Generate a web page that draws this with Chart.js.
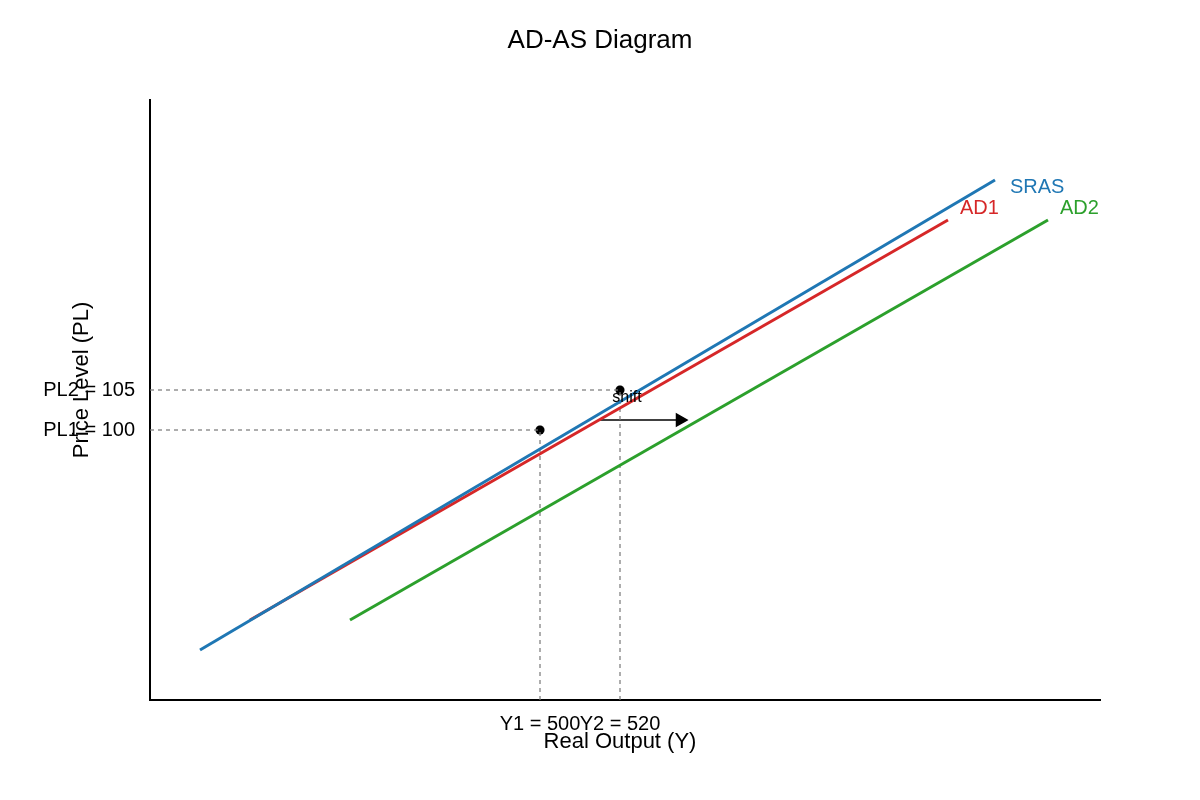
<!DOCTYPE html>
<html>
<head>
<meta charset="utf-8">
<script src="https://cdn.jsdelivr.net/npm/chart.js@4"></script>
<style>body{margin:0;background:#fff}</style>
</head>
<body>
<canvas id="c" width="1200" height="800"></canvas>
<script>
// curve endpoints in data units (x = real output, y = price level)
const srasX = [415, 613.75];
const srasY = [72.5, 131.25];
const ad1X = [427.5, 602];
const ad1Y = [76.25, 126.25];
const ad2X = [452.5, 627];
const ad2Y = [76.25, 126.25];
const eqX = [500, 520];
const eqY = [100, 105];
const xTickLabels = ["Y1 = 500", "Y2 = 520"];
const yTickLabels = ["PL1 = 100", "PL2 = 105"];
const arrowX = [515, 535];
const arrowY = 101.25;

const xMin = 402.5, xMax = 640, yMin = 66.25, yMax = 141.25;
const pts = (xs, ys) => xs.map((x, i) => ({ x, y: ys[i] }));
const dash = { borderColor: '#777', borderWidth: 1.2, borderDash: [4, 4], pointRadius: 0, showLine: true };

const datasets = [
  { label: 'SRAS', data: pts(srasX, srasY), borderColor: '#1f77b4', borderWidth: 3, pointRadius: 0, showLine: true },
  { label: 'AD1', data: pts(ad1X, ad1Y), borderColor: '#d62728', borderWidth: 3, pointRadius: 0, showLine: true },
  { label: 'AD2', data: pts(ad2X, ad2Y), borderColor: '#2ca02c', borderWidth: 3, pointRadius: 0, showLine: true },
];
eqX.forEach((x, i) => {
  datasets.push({ ...dash, data: [{ x: xMin, y: eqY[i] }, { x, y: eqY[i] }] });
  datasets.push({ ...dash, data: [{ x, y: yMin }, { x, y: eqY[i] }] });
});
datasets.push({ data: pts(eqX, eqY), backgroundColor: '#000', pointRadius: 4.5, showLine: false });
datasets.push({
  data: [{ x: arrowX[0], y: arrowY }, { x: arrowX[1], y: arrowY }], borderColor: '#000', borderWidth: 1.5,
  showLine: true, pointStyle: 'triangle', rotation: 90, pointRadius: [0, 7], backgroundColor: '#000'
});

const labels = {
  id: 'labels',
  afterDraw(chart) {
    const { ctx, scales: { x, y } } = chart;
    ctx.save();
    ctx.font = '20px "Liberation Sans", Arial';
    ctx.textBaseline = 'middle';
    ctx.fillStyle = '#1f77b4'; ctx.fillText('SRAS', x.getPixelForValue(srasX[1]) + 15, y.getPixelForValue(srasY[1]) + 7);
    ctx.fillStyle = '#d62728'; ctx.fillText('AD1', x.getPixelForValue(ad1X[1]) + 12, y.getPixelForValue(ad1Y[1]) - 12);
    ctx.fillStyle = '#2ca02c'; ctx.fillText('AD2', x.getPixelForValue(ad2X[1]) + 12, y.getPixelForValue(ad2Y[1]) - 12);
    ctx.fillStyle = '#000';
    ctx.font = '16px "Liberation Sans", Arial';
    ctx.textAlign = 'center';
    ctx.fillText('shift', x.getPixelForValue(520) + 7, y.getPixelForValue(104));
    ctx.font = '26px "Liberation Sans", Arial';
    ctx.fillText('AD-AS Diagram', 600, 41);
    ctx.font = '22px "Liberation Sans", Arial';
    ctx.fillText('Real Output (Y)', 620, 742);
    ctx.translate(82, 380); ctx.rotate(-Math.PI / 2);
    ctx.fillText('Price Level (PL)', 0, 0);
    ctx.restore();
  }
};

new Chart(document.getElementById('c'), {
  type: 'scatter',
  data: { datasets },
  plugins: [labels],
  options: {
    responsive: false, animation: false,
    layout: { padding: { top: 100, right: 100, left: 0, bottom: 0 } },
    plugins: { legend: { display: false }, tooltip: { enabled: false } },
    scales: {
      x: {
        type: 'linear', min: xMin, max: xMax,
        grid: { display: false, drawTicks: false }, border: { color: '#000', width: 2 },
        afterBuildTicks: s => { s.ticks = eqX.map(v => ({ value: v })); },
        afterFit: s => { s.height = 100; },
        ticks: { padding: 12, color: '#000', font: { size: 20, family: '"Liberation Sans", Arial' }, callback: (v, i) => xTickLabels[i], maxRotation: 0, autoSkip: false }
      },
      y: {
        type: 'linear', min: yMin, max: yMax,
        grid: { display: false, drawTicks: false }, border: { color: '#000', width: 2 },
        afterBuildTicks: s => { s.ticks = eqY.map(v => ({ value: v })); },
        afterFit: s => { s.width = 150; },
        ticks: { padding: 15, color: '#000', font: { size: 20, family: '"Liberation Sans", Arial' }, callback: (v, i) => yTickLabels[i], autoSkip: false }
      }
    }
  }
});
</script>
</body>
</html>
